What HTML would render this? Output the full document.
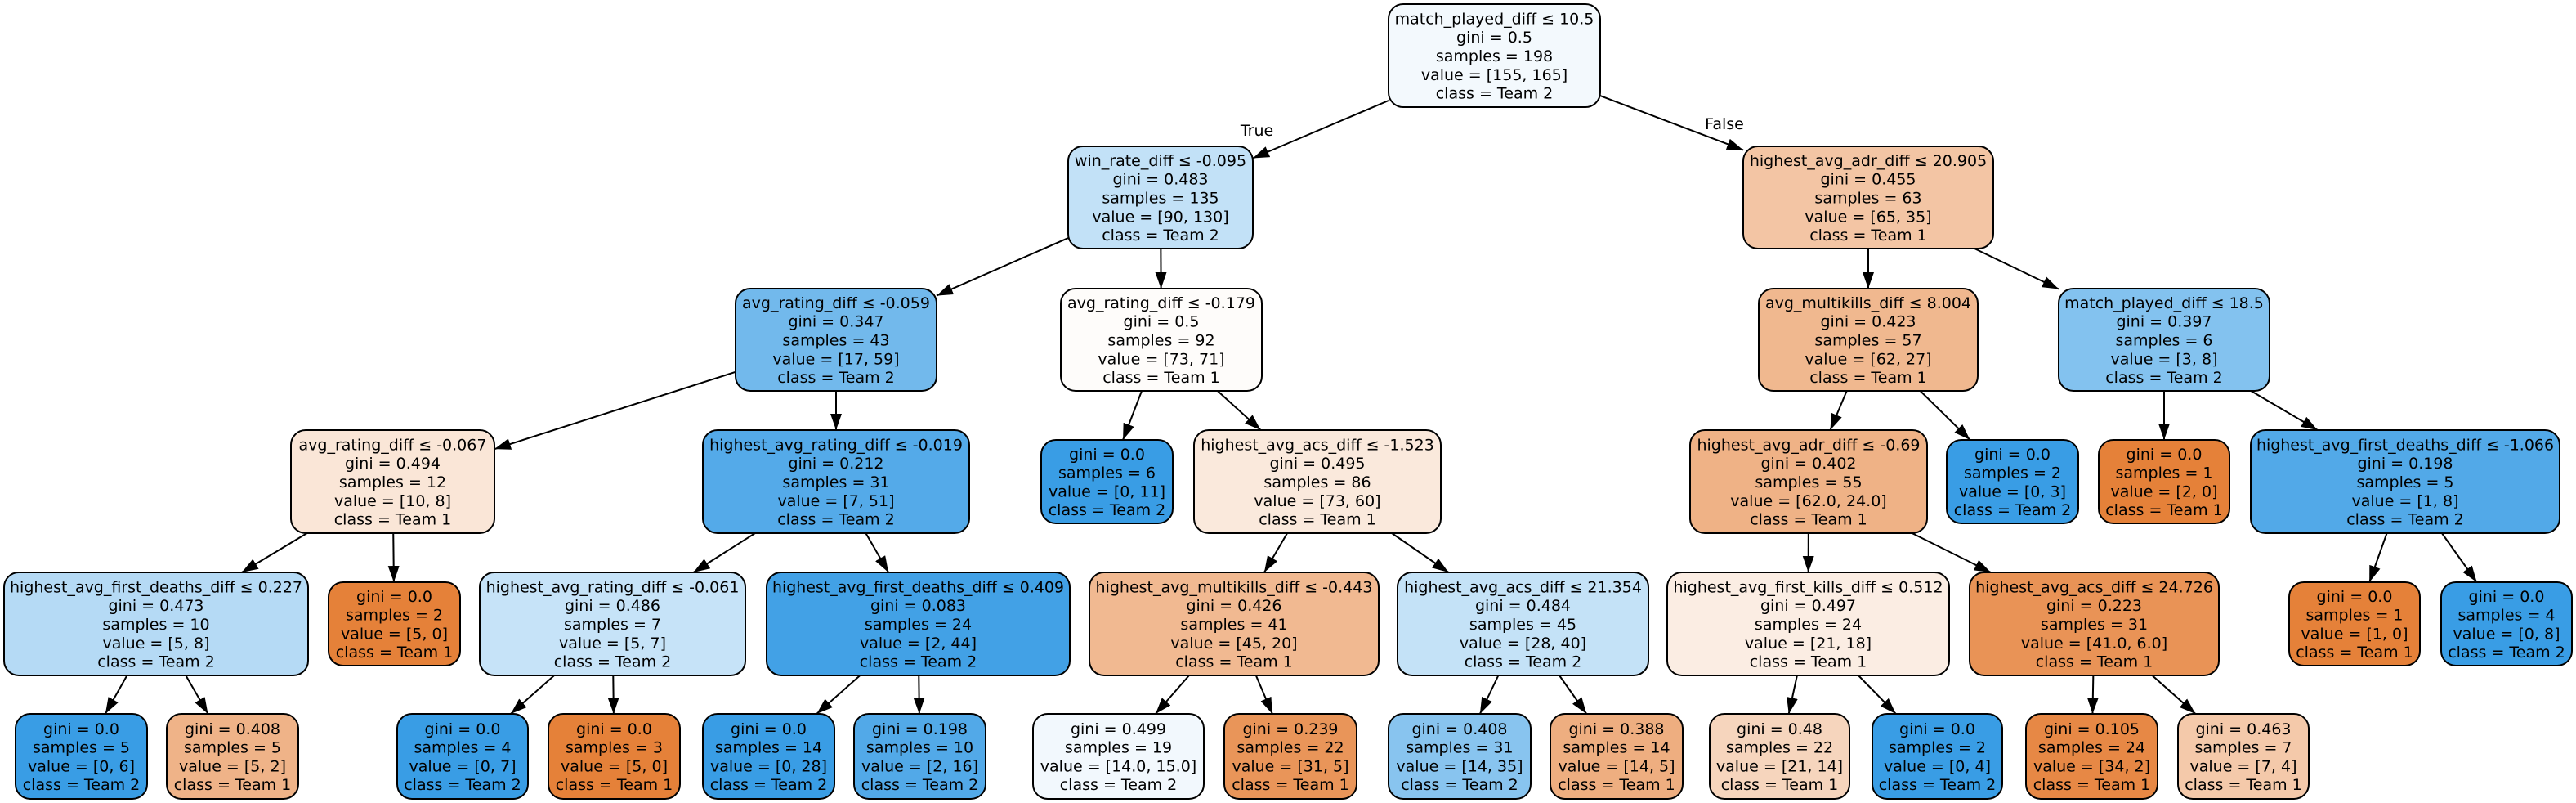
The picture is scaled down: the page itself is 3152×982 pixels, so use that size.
<!DOCTYPE html>
<html><head><meta charset="utf-8"><style>
html,body{margin:0;padding:0;background:#fff;}
svg{display:block;}
text{font-family:"DejaVu Sans","Liberation Sans",sans-serif;fill:#000;}
</style></head><body>
<svg id="s" width="3152" height="982" viewBox="0 0 3152 982" xmlns="http://www.w3.org/2000/svg">
<defs><marker id="ah" markerWidth="20" markerHeight="14" refX="20" refY="7" orient="auto" markerUnits="userSpaceOnUse" viewBox="0 0 20 14"><path d="M0,0 L20,7 L0,14 z" fill="#000"/></marker></defs>
<g id="edges"></g><g id="nodes"></g>
<text x="1538" y="166" font-size="19" text-anchor="middle">True</text>
<text x="2110" y="158" font-size="19" text-anchor="middle">False</text>
</svg>
<script>
var L=[[5,131],[179,304],[353,478],[526,652],[700,826],[873,977]];
var N=[
['r',0,1699,1958,'match_played_diff ≤ 10.5','0.5',198,[155,165],null],
['a',1,1307,1533,'win_rate_diff ≤ -0.095','0.483',135,[90,130],'r'],
['b',1,2133,2439,'highest_avg_adr_diff ≤ 20.905','0.455',63,[65,35],'r'],
['c',2,900,1146,'avg_rating_diff ≤ -0.059','0.347',43,[17,59],'a'],
['d',2,1298,1544,'avg_rating_diff ≤ -0.179','0.5',92,[73,71],'a'],
['e',2,2152,2420,'avg_multikills_diff ≤ 8.004','0.423',57,[62,27],'b'],
['f',2,2519,2777,'match_played_diff ≤ 18.5','0.397',6,[3,8],'b'],
['g',3,356,605,'avg_rating_diff ≤ -0.067','0.494',12,[10,8],'c'],
['h',3,860,1186,'highest_avg_rating_diff ≤ -0.019','0.212',31,[7,51],'c'],
['i',3,1274,1435,null,'0.0',6,[0,11],'d'],
['j',3,1461,1763,'highest_avg_acs_diff ≤ -1.523','0.495',86,[73,60],'d'],
['k',3,2068,2358,'highest_avg_adr_diff ≤ -0.69','0.402',55,['62.0','24.0'],'e'],
['l',3,2382,2543,null,'0.0',2,[0,3],'e'],
['m',3,2568,2728,null,'0.0',1,[2,0],'f'],
['n',3,2754,3132,'highest_avg_first_deaths_diff ≤ -1.066','0.198',5,[1,8],'f'],
['o',4,5,377,'highest_avg_first_deaths_diff ≤ 0.227','0.473',10,[5,8],'g'],
['p',4,402,563,null,'0.0',2,[5,0],'g'],
['q',4,587,912,'highest_avg_rating_diff ≤ -0.061','0.486',7,[5,7],'h'],
['t',4,938,1309,'highest_avg_first_deaths_diff ≤ 0.409','0.083',24,[2,44],'h'],
['u',4,1333,1687,'highest_avg_multikills_diff ≤ -0.443','0.426',41,[45,20],'j'],
['v',4,1710,2017,'highest_avg_acs_diff ≤ 21.354','0.484',45,[28,40],'j'],
['w',4,2040,2385,'highest_avg_first_kills_diff ≤ 0.512','0.497',24,[21,18],'k'],
['x',4,2410,2715,'highest_avg_acs_diff ≤ 24.726','0.223',31,['41.0','6.0'],'k'],
['y',4,2801,2961,null,'0.0',1,[1,0],'n'],
['z',4,2987,3147,null,'0.0',4,[0,8],'n'],
['o1',5,19,180,null,'0.0',5,[0,6],'o'],
['o2',5,204,365,null,'0.408',5,[5,2],'o'],
['q1',5,486,646,null,'0.0',4,[0,7],'q'],
['q2',5,671,832,null,'0.0',3,[5,0],'q'],
['t1',5,860,1021,null,'0.0',14,[0,28],'t'],
['t2',5,1045,1206,null,'0.198',10,[2,16],'t'],
['u1',5,1264,1473,null,'0.499',19,['14.0','15.0'],'u'],
['u2',5,1498,1660,null,'0.239',22,[31,5],'u'],
['v1',5,1699,1873,null,'0.408',31,[14,35],'v'],
['v2',5,1897,2059,null,'0.388',14,[14,5],'v'],
['w1',5,2092,2263,null,'0.48',22,[21,14],'w'],
['w2',5,2291,2450,null,'0.0',2,[0,4],'w'],
['x1',5,2479,2640,null,'0.105',24,[34,2],'x'],
['x2',5,2665,2825,null,'0.463',7,[7,4],'x']
];
var NS='http://www.w3.org/2000/svg';
function el(t,a){var e=document.createElementNS(NS,t);for(var k in a)e.setAttribute(k,a[k]);return e;}
var G=document.getElementById('nodes'),E=document.getElementById('edges');
var box={};
N.forEach(function(n){
 var lv=L[n[1]],y1=lv[0],y2=lv[1];
 if(!n[4]){ if(n[1]==5){y1=873;y2=977;} else {y1=lv[0]+12;y2=lv[1]-12;} }
 box[n[0]]={x1:n[2],x2:n[3],y1:y1,y2:y2};
 var a=parseFloat(n[7][0]),b=parseFloat(n[7][1]),s=a+b,pa=a/s,pb=b/s;
 var mx=Math.max(pa,pb),mn=Math.min(pa,pb),al=mn>=1?0:(mx-mn)/(1-mn);
 var c=pa>pb?[229,129,57]:[57,157,229];
 var col='rgb('+c.map(function(v){return Math.round(255-(255-v)*al);}).join(',')+')';
 G.appendChild(el('rect',{x:n[2],y:y1,width:n[3]-n[2],height:y2-y1,rx:18,ry:18,fill:col,stroke:'#000','stroke-width':2}));
 var lines=[];
 if(n[4])lines.push(n[4]);
 lines.push('gini = '+n[5]);lines.push('samples = '+n[6]);
 lines.push('value = ['+n[7][0]+', '+n[7][1]+']');
 lines.push('class = '+(pa>pb?'Team 1':'Team 2'));
 var cx=(n[2]+n[3])/2,cy=(y1+y2)/2,nl=lines.length,w=n[3]-n[2]-14;
 lines.forEach(function(t,i){
  var te=el('text',{x:cx,y:cy+(i-(nl-1)/2)*22.8+1,'font-size':19,'text-anchor':'middle','dominant-baseline':'central'});
  te.textContent=t;G.appendChild(te);
  try{if(te.getComputedTextLength()>w){te.setAttribute('textLength',w);te.setAttribute('lengthAdjust','spacingAndGlyphs');}}catch(e){}
 });
});
function clip(bx,x0,y0,dx,dy){
 var tx=Infinity,ty=Infinity,hw=(bx.x2-bx.x1)/2,hh=(bx.y2-bx.y1)/2;
 if(dx!=0)tx=hw/Math.abs(dx); if(dy!=0)ty=hh/Math.abs(dy);
 var t=Math.min(tx,ty);return [x0+dx*t,y0+dy*t];
}
N.forEach(function(n){
 if(!n[8])return;
 var p=box[n[8]],c=box[n[0]];
 var px=(p.x1+p.x2)/2,py=(p.y1+p.y2)/2,cx=(c.x1+c.x2)/2,cy=(c.y1+c.y2)/2;
 var dx=cx-px,dy=cy-py;
 var s=clip(p,px,py,dx,dy),e=clip(c,cx,cy,-dx,-dy);
 E.appendChild(el('line',{x1:s[0],y1:s[1],x2:e[0],y2:e[1],stroke:'#000','stroke-width':2,'marker-end':'url(#ah)'}));
});
</script>
</body></html>
